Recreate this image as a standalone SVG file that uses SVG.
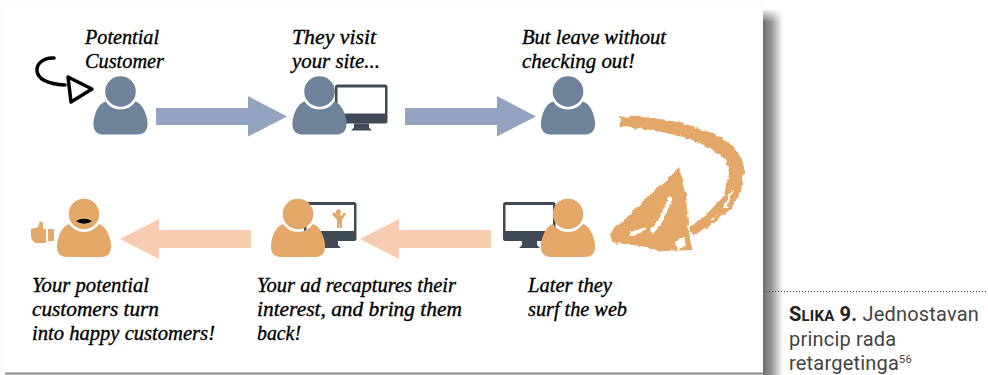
<svg xmlns="http://www.w3.org/2000/svg" width="988" height="375" viewBox="0 0 988 375">
<style>
.h{font-family:"Liberation Serif","DejaVu Serif",serif;font-style:italic;font-size:20px;fill:#000;stroke:#000;stroke-width:.35px}
.c{font-family:"Roboto","Open Sans",sans-serif;font-size:20px;fill:#444;letter-spacing:.2px}
.b{font-weight:700;fill:#222}
.mon{fill:#3f4a55}
.scr{fill:#fff}
.blue{fill:#6f8299}
.or{fill:#e3a767}
</style>
<defs>
<linearGradient id="sh" x1="0" x2="1" y1="0" y2="0"><stop offset="0" stop-color="#6e6e6e"/><stop offset=".45" stop-color="#9a9a9a"/><stop offset="1" stop-color="#fff"/></linearGradient>
<linearGradient id="shtop" x1="0" x2="0" y1="0" y2="1"><stop offset="0" stop-color="#fff" stop-opacity="1"/><stop offset="1" stop-color="#fff" stop-opacity="0"/></linearGradient>
<filter id="rough" x="-10%" y="-10%" width="120%" height="120%"><feTurbulence type="fractalNoise" baseFrequency=".16" numOctaves="3" seed="4"/><feDisplacementMap in="SourceGraphic" scale="5" xChannelSelector="R" yChannelSelector="G"/></filter>
<g id="person"><circle r="15.3"/><path d="M-15,10 A18,18 0 0 0 15,10 C21,12 24,18 26,25 C28.500,34 27,43 17,43 L-17,43 C-27,43 -28.500,34 -26,25 C-24,18 -21,12 -15,10Z"/></g>
<g id="monitor"><rect x="0" y="0" width="52.500" height="39" rx="2.500" class="mon"/><rect x="2.500" y="3" width="47.500" height="26" class="scr"/><path class="mon" d="M19,39 L34,39 L34,43 L37,46 L16,46 L19,43Z"/></g>
</defs>
<rect width="988" height="375" fill="#fff"/>
<rect x="0" y="0" width="763" height="8" fill="#fdfdfd"/>
<rect x="0" y="0" width="5" height="375" fill="#fdfdfd"/>
<rect x="763" y="10" width="20" height="365" fill="url(#sh)"/>
<rect x="763" y="8" width="20" height="14" fill="url(#shtop)"/>
<rect x="5" y="372.500" width="758" height="2" fill="#8a8a8a"/>

<g id="connectors">
<path id="arrow-1" fill="#94a3bf" d="M156,108 H248 V96 L287,116.500 L248,136.500 V125 H156Z"/>
<path id="arrow-2" fill="#94a3bf" d="M405,108 H497 V96 L536,116.500 L497,136.500 V125 H405Z"/>
<path id="arrow-4" fill="#f7ccb0" d="M491,230 H399 V219 L360,239 L399,259 V248 H491Z"/>
<path id="arrow-5" fill="#f7ccb0" d="M251,230 H159 V219 L120,239 L159,259 V248 H251Z"/>
<g id="arrow-3" filter="url(#rough)">
<path class="or" d="M619,117 C650,116 685,120 722,138 C736,147 745,160 744,172 C742,192 735,208 722,216 C712,224 702,230 692,236 L690,226 C702,220 716,208 724,194 C730,180 731,168 724,158 C705,141 670,130 621,127Z"/>
<path class="or" d="M679,168 L686,192 L688,225 L692,250 L664,251 L612,242 L610,233 Z"/>
<path fill="#fff" d="M669,196 L672,198 L663,222 L652,235 L650,230 L660,218Z"/>
<path fill="#fff" d="M630,232 L646,226 L642,233 L628,236Z"/>
<path fill="#fff" d="M675,241 L684,236 L686,246 L678,250 Z"/>
<path fill="#fff" d="M729,195 L733,190 L727,208 L722,210Z"/>
<path fill="#fff" d="M712,218 L718,214 L710,222Z"/>
</g>
</g>

<g id="black-arrow" fill="none" stroke="#000" stroke-width="3.500" stroke-linejoin="round" stroke-linecap="round">
<path d="M54,58 C44,57 36,64 37,71 C38,80 50,84 65,85"/>
<path d="M68,77 L92,89 L71,102Z"/>
</g>

<g id="node-potential"><use href="#person" x="120.500" y="91.500" class="blue"/></g>
<g id="node-visit"><use href="#monitor" x="335" y="84.500"/><use href="#person" x="319.500" y="91.500" class="blue"/></g>
<g id="node-leave"><use href="#person" x="568" y="91.500" class="blue"/></g>
<g id="node-surf"><use href="#monitor" x="503" y="202"/><use href="#person" x="568" y="214" class="or"/></g>
<g id="node-ad"><use href="#monitor" x="304" y="202"/>
<path class="or" d="M337,214 a2.500,2.500 0 1 1 3,0 l1,2 l3,-3.500 l2,1.500 l-4,6 v8 h-2 l-.5,-5 l-.5,5 h-2 v-8 l-5,-6 l2,-1.500 Z"/>
<use href="#person" x="298" y="214" class="or"/></g>
<g id="node-happy"><use href="#person" x="84" y="214" class="or"/>
<path d="M76,221 Q84,216.500 92,221 Q84,226.500 76,221Z" fill="#000"/>
<path class="or" d="M31,229 L38,227 L40,221 L43,223 L43,229 L46,229 L46,243 L36,243 Q31,241 31,235Z"/>
<rect x="48" y="229" width="6" height="12" class="or"/></g>

<g id="labels">
<text class="h" x="85" y="44" textLength="74" lengthAdjust="spacingAndGlyphs">Potential</text>
<text class="h" x="85" y="68" textLength="79" lengthAdjust="spacingAndGlyphs">Customer</text>
<text class="h" x="292" y="44" textLength="84" lengthAdjust="spacingAndGlyphs">They visit</text>
<text class="h" x="292" y="68" textLength="88" lengthAdjust="spacingAndGlyphs">your site...</text>
<text class="h" x="522" y="44" textLength="144" lengthAdjust="spacingAndGlyphs">But leave without</text>
<text class="h" x="522" y="68" textLength="113" lengthAdjust="spacingAndGlyphs">checking out!</text>
<text class="h" x="32" y="292" textLength="117" lengthAdjust="spacingAndGlyphs">Your potential</text>
<text class="h" x="32" y="316" textLength="127" lengthAdjust="spacingAndGlyphs">customers turn</text>
<text class="h" x="32" y="340" textLength="183" lengthAdjust="spacingAndGlyphs">into happy customers!</text>
<text class="h" x="257" y="292" textLength="199" lengthAdjust="spacingAndGlyphs">Your ad recaptures their</text>
<text class="h" x="257" y="316" textLength="205" lengthAdjust="spacingAndGlyphs">interest, and bring them</text>
<text class="h" x="257" y="340" textLength="44" lengthAdjust="spacingAndGlyphs">back!</text>
<text class="h" x="528" y="292" textLength="84" lengthAdjust="spacingAndGlyphs">Later they</text>
<text class="h" x="528" y="316" textLength="99" lengthAdjust="spacingAndGlyphs">surf the web</text>
</g>

<line x1="763" y1="291.500" x2="988" y2="291.500" stroke="#444" stroke-width="1" stroke-dasharray="1 2"/>
<g id="caption">
<text class="c" x="789" y="320.500"><tspan class="b">S</tspan><tspan class="b" font-size="15px">LIKA</tspan><tspan class="b"> 9.</tspan> Jednostavan</text>
<text class="c" x="789" y="346" letter-spacing=".8">princip rada</text>
<text class="c" x="789" y="370" letter-spacing=".8">retargetinga<tspan font-size="11px" dy="-7">56</tspan></text>
</g>
</svg>
